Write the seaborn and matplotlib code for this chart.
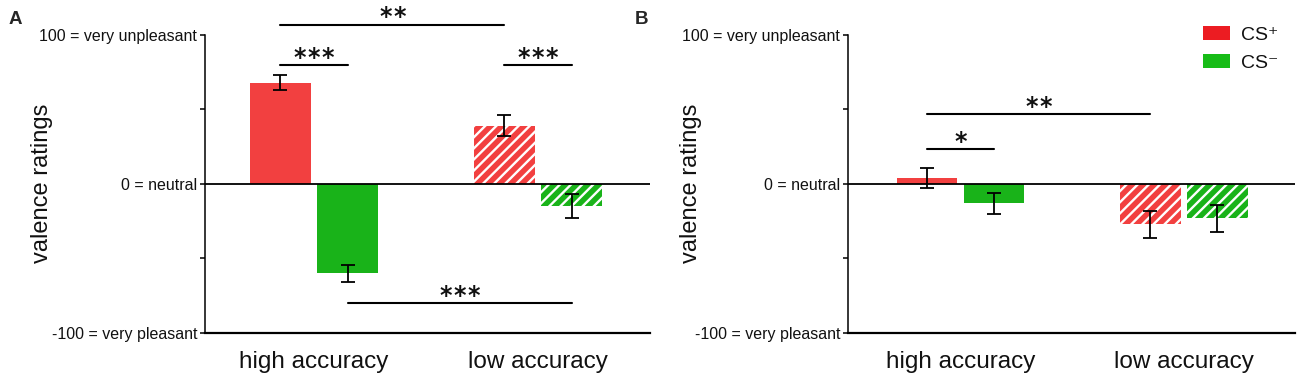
import numpy as np
import pandas as pd
import matplotlib
matplotlib.use("Agg")
import matplotlib.pyplot as plt
import matplotlib.transforms as mtransforms
from matplotlib.patches import Patch
import seaborn as sns

# ---------------- data ----------------
categories = ["high accuracy", "low accuracy"]
cs_levels = ["CS+", "CS-"]

# panel A (means and SEM) - order: [high, low]
a_csplus = [68, 39]
a_csminus = [-60, -15]
a_csplus_err = [5, 7]
a_csminus_err = [5.5, 8]

# panel B
b_csplus = [4, -27]
b_csminus = [-13, -23]
b_csplus_err = [7, 9]
b_csminus_err = [7, 9]

ytick_values = [100, 50, 0, -50, -100]
ytick_labels = ["100 = very unpleasant", "", "0 = neutral", "", "-100 = very pleasant"]

# significance brackets: (start bar, end bar, y, stars)
a_sig = [(("high accuracy", "CS+"), ("low accuracy", "CS+"), 107, "**"),
         (("high accuracy", "CS+"), ("high accuracy", "CS-"), 80, "***"),
         (("low accuracy", "CS+"), ("low accuracy", "CS-"), 80, "***"),
         (("high accuracy", "CS-"), ("low accuracy", "CS-"), -80, "***")]
b_sig = [(("high accuracy", "CS+"), ("low accuracy", "CS+"), 47, "**"),
         (("high accuracy", "CS+"), ("high accuracy", "CS-"), 23.5, "*")]

bar_colors = {"CS+": "#F24040", "CS-": "#19B319"}
legend_colors = {"CS+": "#EC1C22", "CS-": "#17BC17"}

sns.set_theme(style="ticks")
plt.rcParams["font.family"] = ["Liberation Sans", "DejaVu Sans"]
plt.rcParams["hatch.linewidth"] = 1.7

W, H = 1300, 385
fig = plt.figure(figsize=(W / 100, H / 100), dpi=100)


def px_axes(x0, x1, ytop, ybot):
    return fig.add_axes([x0 / W, 1 - ybot / H, (x1 - x0) / W, (ybot - ytop) / H])


def draw_panel(ax, plus, minus, plus_err, minus_err, sigs, xlim):
    df = pd.DataFrame({
        "accuracy": categories * 2,
        "cs": ["CS+"] * len(categories) + ["CS-"] * len(categories),
        "value": plus + minus,
    })
    errs = {"CS+": plus_err, "CS-": minus_err}
    sns.barplot(data=df, x="accuracy", y="value", hue="cs", order=categories,
                hue_order=cs_levels, palette=bar_colors, errorbar=None,
                width=0.6, gap=0.1, saturation=1, linewidth=0, legend=False, ax=ax)
    centers = {}
    for cs, cont in zip(cs_levels, ax.containers):
        vals = df[df.cs == cs].set_index("accuracy").loc[categories, "value"].values
        for cat, patch, v, e in zip(categories, cont.patches, vals, errs[cs]):
            xc = patch.get_x() + patch.get_width() / 2
            centers[(cat, cs)] = xc
            if cat == "low accuracy":
                patch.set_hatch("///")
                patch.set_edgecolor("white")
                patch.set_linewidth(0)
            ax.errorbar(xc, v, yerr=e, fmt="none", ecolor="black", elinewidth=1.3,
                        capsize=5, capthick=1.3, zorder=5)
    ax.axhline(0, color="black", lw=1.3, zorder=4)
    for a, b, y, s in sigs:
        x1, x2 = centers[a], centers[b]
        ax.plot([x1, x2], [y, y], color="black", lw=1.5, clip_on=False, zorder=6)
        n = len(s)
        for i in range(n):
            dx = (i - (n - 1) / 2) * 14 / 100  # inches (14 px step)
            ax.text((x1 + x2) / 2, y, "*", ha="center", va="baseline", fontsize=17,
                    fontweight="bold", family="DejaVu Sans", color="#111111", clip_on=False,
                    transform=ax.transData + mtransforms.ScaledTranslation(dx, 0.2 / 72, fig.dpi_scale_trans))
    ax.set_ylim(-100, 100)
    ax.set_xlim(*xlim)
    ax.set_yticks(ytick_values)
    ax.set_yticklabels(ytick_labels, fontsize=11.5, color="#111111")
    ax.tick_params(axis="y", length=3.5, width=1.1, pad=2, color="black")
    ax.tick_params(axis="x", length=0, pad=13, labelsize=17.5, labelcolor="#111111")
    ax.set_xlabel("")
    ax.set_ylabel("")
    for side in ["top", "right"]:
        ax.spines[side].set_visible(False)
    ax.spines["left"].set_linewidth(1.1)
    ax.spines["left"].set_color("black")
    ax.spines["bottom"].set_linewidth(1.6)
    ax.spines["bottom"].set_color("black")
    ax.patch.set_alpha(0)


axA = px_axes(205, 650, 35, 333)
draw_panel(axA, a_csplus, a_csminus, a_csplus_err, a_csminus_err, a_sig, (-0.487, 1.5))
axB = px_axes(848, 1295, 35, 333)
draw_panel(axB, b_csplus, b_csminus, b_csplus_err, b_csminus_err, b_sig, (-0.503, 1.497))

for xpx in (42, 691):
    fig.text(xpx / W, 1 - 183 / H, "valence ratings", rotation=90, ha="center",
             va="center", fontsize=17, color="#111111")

fig.text(15 / W, 1 - 19 / H, "A", fontsize=13.5, fontweight="bold", ha="center", va="center")
fig.text(642 / W, 1 - 19 / H, "B", fontsize=13.5, fontweight="bold", ha="center", va="center")

handles = [Patch(facecolor=legend_colors[c], edgecolor="none") for c in cs_levels]
labels = ["CS\u207a", "CS\u207b"]
leg = axB.legend(handles, labels, loc="upper left", bbox_to_anchor=(1203 / W, 1 - 26 / H),
                 bbox_transform=fig.transFigure, frameon=False, borderpad=0,
                 borderaxespad=0, handlelength=1.4, handleheight=0.7,
                 handletextpad=0.55, labelspacing=0.55, fontsize=14)
for t in leg.get_texts():
    t.set_color("#111111")

fig.savefig("out.png", dpi=100)
